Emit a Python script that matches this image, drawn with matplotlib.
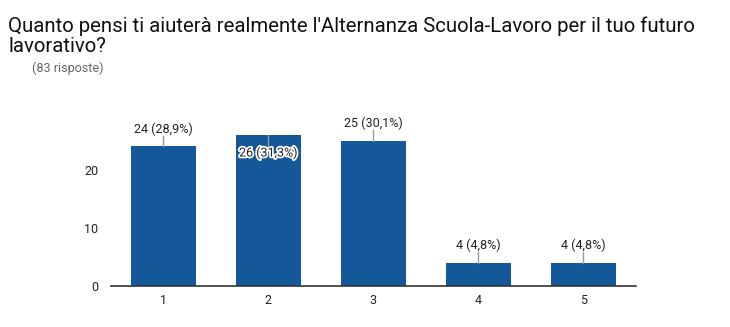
import matplotlib.pyplot as plt
import matplotlib.patheffects as pe

plt.rcParams['font.family'] = ['Roboto', 'DejaVu Sans']

categories = ['1', '2', '3', '4', '5']
counts = [24, 26, 25, 4, 4]
labels = ['24 (28,9%)', '26 (31,3%)', '25 (30,1%)', '4 (4,8%)', '4 (4,8%)']
title = "Quanto pensi ti aiuterà realmente l'Alternanza Scuola-Lavoro per il tuo futuro\nlavorativo?"
subtitle = '(83 risposte)'

fig = plt.figure(figsize=(7.3, 3.27), dpi=100)
ax = fig.add_axes([0.152, 0.1254, 0.719, 0.569])

xs = list(range(1, len(categories) + 1))
ax.bar(xs, counts, width=0.615, color='#15589a', zorder=2)

ax.set_xlim(0.5, 5.5)
ax.set_ylim(0, 32)
ax.set_yticks([0, 10, 20])
ax.set_xticks(xs)
ax.set_xticklabels(categories)
for s in ['top', 'right', 'left']:
    ax.spines[s].set_visible(False)
ax.spines['bottom'].set_color('#333333')
ax.spines['bottom'].set_linewidth(1.2)
ax.tick_params(axis='both', length=0, labelsize=9, colors='#222222', pad=6)
ax.tick_params(axis='y', pad=9)

# data labels with small leader lines
for x, c, lab in zip(xs, counts, labels):
    if c == max(counts):
        # label sits inside the bar, with a halo
        ax.plot([x, x], [c, c - 2.0], color='#999999', lw=1, zorder=3)
        ax.text(x, c - 3.1, lab, ha='center', va='center', fontsize=9,
                color='#222222', zorder=4,
                path_effects=[pe.withStroke(linewidth=2.5, foreground='white')])
    else:
        ax.plot([x, x], [c, c + 1.8], color='#999999', lw=1, zorder=3)
        ax.text(x, c + 3.0, lab, ha='center', va='center', fontsize=9,
                color='#222222', zorder=4)

fig.text(0.011, 0.95, title, ha='left', va='top', fontsize=14.7,
         color='#111111', linespacing=1.06)
fig.text(0.044, 0.79, subtitle, ha='left', va='center', fontsize=9,
         color='#666666')

fig.savefig('out.png', dpi=100)
